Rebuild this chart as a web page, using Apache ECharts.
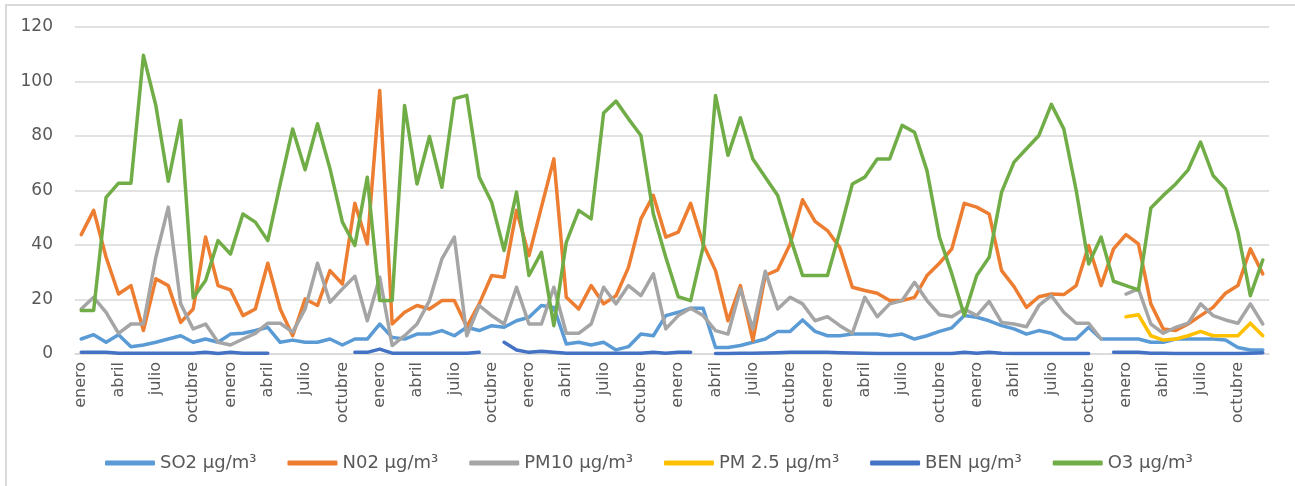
<!DOCTYPE html>
<html>
<head>
<meta charset="utf-8">
<script src="https://cdn.jsdelivr.net/npm/echarts@6/dist/echarts.min.js"></script>
<style>
html,body{margin:0;padding:0;background:#fff;}
#chart{width:1295px;height:486px;}
</style>
</head>
<body>
<div id="chart"></div>
<script>
var monthNames = ['enero','febrero','marzo','abril','mayo','junio','julio','agosto','septiembre','octubre','noviembre','diciembre'];
var years = 8;
var categories = [];
for (var y = 0; y < years; y++) { for (var m = 0; m < 12; m++) categories.push(monthNames[m]); }

var yTicks = [0, 20, 40, 60, 80, 100, 120];

var seriesNames = ['SO2 µg/m³', 'N02 µg/m³', 'PM10 µg/m³', 'PM 2.5 µg/m³', 'BEN µg/m³', 'O3 µg/m³'];

var so2 = [5.5,7.1,4.3,7.1,2.7,3.3,4.3,5.5,6.7,4.3,5.5,4.3,
  7.3,7.6,8.6,9.8,4.3,5.1,4.3,4.3,5.5,3.3,5.5,5.5,
  11,6.1,5.5,7.3,7.3,8.6,6.7,9.8,8.6,10.4,9.8,12.2,
  13.5,17.8,17.1,3.7,4.3,3.3,4.3,1.5,2.7,7.3,6.7,14.1,
  15.3,16.8,16.8,2.4,2.4,3.1,4.3,5.5,8.3,8.3,12.5,8.3,
  6.7,6.7,7.3,7.3,7.3,6.7,7.3,5.5,6.7,8.3,9.6,14.1,
  13.5,12.2,10.4,9.2,7.3,8.6,7.6,5.5,5.5,9.8,5.5,5.5,
  5.5,5.5,4.3,4.3,5.5,5.5,5.5,5.5,5.1,2.4,1.5,1.5];

var no2 = [43.8,52.7,35.5,22,25.1,8.6,27.6,25.1,11.6,16.5,42.9,25.1,
  23.5,14.1,16.5,33.3,16.5,6.7,20.2,17.8,30.6,25.7,55.3,40.4,
  96.7,11,15.3,17.8,16.5,19.6,19.6,10,18.4,28.8,28.2,52.7,
  36.1,53.9,71.6,20.8,16.5,25.1,18.4,21.4,31.8,49.6,58.2,42.9,
  44.7,55.3,40.4,30.6,12.2,25.1,4.9,28.8,30.9,40.4,56.6,48.7,
  45.3,39,24.5,23.3,22.3,19.6,19.6,20.8,28.8,33.3,38.6,55.3,
  53.9,51.4,30.6,24.7,17.1,21,22,21.8,25.1,39.8,25.1,38.6,
  43.8,40.4,18.4,9.2,8.6,11,14.1,17.1,22.3,25.1,38.6,29.4];

var pm10 = [16.5,20.8,15.3,7.6,11,11,35.5,53.9,18.4,9.2,11,4.3,
  3.3,5.5,7.6,11.3,11.3,8,16.5,33.3,19,23.9,28.5,12.2,
  28.2,3.1,6.7,11,19.6,34.9,42.9,6.7,17.8,14.1,11,24.5,
  11,11,24.5,7.6,7.6,11,24.5,18.4,25.1,21.4,29.4,9.2,
  14.1,16.8,14.1,8.6,7.3,23.9,9.2,30.4,16.5,20.8,18.4,12.2,
  13.7,10.4,7.6,20.8,13.7,18.4,19.6,26.3,19.6,14.4,13.7,16.5,
  14.1,19.3,11.6,11,10,17.8,21.4,15.3,11.3,11.3,5.5,null,
  22,23.9,11,7.6,9.8,11.3,18.4,14.1,12.5,11.3,18.4,11];

var pm25 = [null,null,null,null,null,null,null,null,null,null,null,null,
  null,null,null,null,null,null,null,null,null,null,null,null,
  null,null,null,null,null,null,null,null,null,null,null,null,
  null,null,null,null,null,null,null,null,null,null,null,null,
  null,null,null,null,null,null,null,null,null,null,null,null,
  null,null,null,null,null,null,null,null,null,null,null,null,
  null,null,null,null,null,null,null,null,null,null,null,null,
  13.7,14.4,6.7,5.1,5.5,6.7,8.3,6.7,6.7,6.7,11.3,6.7];

var ben = [0.6,0.6,0.6,0.3,0.3,0.3,0.3,0.3,0.3,0.3,0.6,0.2,
  0.6,0.3,0.3,0.3,null,null,null,null,null,null,0.6,0.6,
  1.8,0.3,0.3,0.3,0.3,0.3,0.3,0.3,0.6,null,4.3,1.5,
  0.6,1.0,0.6,0.3,0.3,0.3,0.3,0.3,0.3,0.3,0.6,0.3,
  0.6,0.6,null,0.2,0.2,0.3,0.3,0.4,0.5,0.6,0.6,0.6,
  0.6,0.5,0.4,0.3,0.2,0.2,0.2,0.2,0.2,0.2,0.2,0.6,
  0.3,0.6,0.3,0.2,0.2,0.2,0.2,0.2,0.2,0.2,null,0.6,
  0.6,0.6,0.3,0.3,0.2,0.2,0.2,0.2,0.2,0.2,0.3,0.5];

var o3 = [16,16,57.5,62.7,62.7,109.6,91.2,63.4,85.7,20.6,27,41.6,
  36.7,51.4,48.4,41.6,62.4,82.6,67.6,84.5,68,48.4,39.8,64.9,
  19.6,19.6,91.2,62.4,79.8,61.2,93.7,94.9,64.9,55.7,38,59.4,
  28.8,37.3,10.4,41,52.7,49.6,88.4,92.8,86.3,80.2,51.4,35.5,
  21,19.6,39.2,94.9,72.9,86.7,71.6,64.9,58.2,42.9,28.8,28.8,
  28.8,45,62.4,64.9,71.6,71.6,83.9,81.4,67.3,42.9,29.4,14.1,
  28.8,35.5,59.4,70.4,75.3,80.2,91.6,82.6,60,33,42.9,26.7,
  25.1,23.5,53.6,58.2,62.4,67.6,77.8,65.5,60.6,44.7,21.4,34.5];

var seriesData = [so2, no2, pm10, pm25, ben, o3];
var colors = ['#5B9BD5', '#ED7D31', '#A5A5A5', '#FFC000', '#4472C4', '#70AD47'];

var chart = echarts.init(document.getElementById('chart'), null, {renderer: 'canvas'});
var series = seriesNames.map(function (name, i) {
  return {
    name: name,
    type: 'line',
    data: seriesData[i],
    symbol: 'none',
    showSymbol: false,
    connectNulls: false,
    animation: false,
    lineStyle: {color: colors[i], width: 3.5, cap: 'round', join: 'round'},
    itemStyle: {color: colors[i]}
  };
});

chart.setOption({
  animation: false,
  backgroundColor: '#ffffff',
  textStyle: {fontFamily: 'DejaVu Sans'},
  graphic: [{
    type: 'rect',
    shape: {x: 6, y: 5, width: 1400, height: 600},
    style: {fill: 'none', stroke: '#D9D9D9', lineWidth: 2},
    silent: true
  }],
  grid: {left: 75, right: 26, top: 27, bottom: 132, containLabel: false},
  legend: {
    data: seriesNames,
    left: 100,
    top: 449,
    icon: 'roundRect',
    itemWidth: 50,
    itemHeight: 5,
    itemGap: 31,
    textStyle: {color: '#595959', fontSize: 18, fontFamily: 'DejaVu Sans'}
  },
  xAxis: {
    type: 'category',
    data: categories,
    boundaryGap: true,
    axisLine: {show: true, lineStyle: {color: '#D9D9D9', width: 1.5}},
    axisTick: {show: false},
    axisLabel: {
      interval: 2,
      rotate: 90,
      margin: 8,
      color: '#595959',
      fontSize: 16,
      fontFamily: 'DejaVu Sans'
    },
    splitLine: {show: false}
  },
  yAxis: {
    type: 'value',
    min: yTicks[0],
    max: yTicks[yTicks.length - 1],
    interval: yTicks[1] - yTicks[0],
    axisLine: {show: false},
    axisTick: {show: false},
    axisLabel: {color: '#595959', fontSize: 17, margin: 22, fontFamily: 'DejaVu Sans'},
    splitLine: {lineStyle: {color: '#D9D9D9', width: 1.5}}
  },
  series: series
});
</script>
</body>
</html>
